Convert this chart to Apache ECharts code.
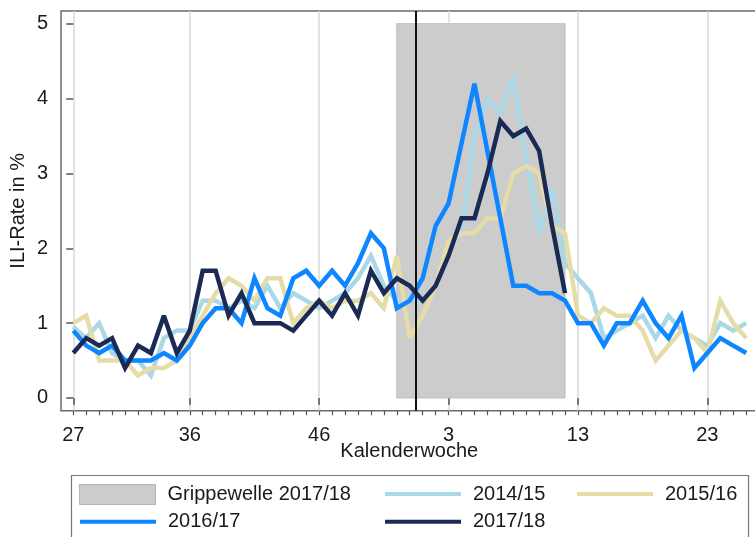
<!DOCTYPE html>
<html>
<head>
<meta charset="utf-8">
<script src="https://cdn.jsdelivr.net/npm/echarts@6/dist/echarts.min.js"></script>
<style>
  html, body { margin: 0; padding: 0; background: #ffffff; }
  #chart { width: 755px; height: 537px; }
</style>
</head>
<body>
<div id="chart"></div>
<script>
// Season runs from calendar week 27 to week 26 of the next year (including week 53)
const weekLabels = [
  '27','28','29','30','31','32','33','34','35','36','37','38','39','40','41','42','43','44',
  '45','46','47','48','49','50','51','52','53',
  '1','2','3','4','5','6','7','8','9','10','11','12','13','14','15','16','17','18','19',
  '20','21','22','23','24','25','26'
];

// Labelled weeks on the x axis
const tickWeeks = ['27', '36', '46', '3', '13', '23'];
const yTicks = [0, 1, 2, 3, 4, 5];

// Flu wave 2017/18 (first and last week) and the turn of the year
const grippeWave = ['52', '12'];
const yearChange = ['53', '1'];

// ILI rate in % per calendar week
const season1415 = [0.95, 0.8, 1.0, 0.6, 0.5, 0.5, 0.3, 0.8, 0.9, 0.9,
  1.3, 1.3, 1.2, 1.3, 1.2, 1.5, 1.2, 1.4, 1.3, 1.2,
  1.3, 1.4, 1.6, 1.9, 1.5, 1.3, 1.3, 1.3, 1.5, 2.0,
  2.2, 3.5, 4.0, 3.8, 4.3, 3.2, 2.2, 2.8, 1.8, 1.6,
  1.4, 0.8, 0.9, 1.0, 1.1, 0.8, 1.1, 0.9, 0.8, 0.7,
  1.0, 0.9, 1.0];
const season1516 = [1.0, 1.1, 0.5, 0.5, 0.5, 0.3, 0.4, 0.4, 0.5, 0.8,
  1.1, 1.4, 1.6, 1.5, 1.3, 1.6, 1.6, 1.0, 1.2, 1.3,
  1.2, 1.3, 1.3, 1.4, 1.2, 1.9, 0.8, 1.1, 1.5, 2.1,
  2.2, 2.2, 2.4, 2.4, 3.0, 3.1, 3.0, 2.3, 2.2, 1.1,
  1.0, 1.2, 1.1, 1.1, 0.9, 0.5, 0.7, 0.9, 0.8, 0.6,
  1.3, 1.0, 0.8];
const season1617 = [0.9, 0.7, 0.6, 0.7, 0.5, 0.5, 0.5, 0.6, 0.5, 0.7,
  1.0, 1.2, 1.2, 1.0, 1.6, 1.2, 1.1, 1.6, 1.7, 1.5,
  1.7, 1.5, 1.8, 2.2, 2.0, 1.2, 1.3, 1.6, 2.3, 2.6,
  3.4, 4.2, 3.3, 2.4, 1.5, 1.5, 1.4, 1.4, 1.3, 1.0,
  1.0, 0.7, 1.0, 1.0, 1.3, 1.0, 0.8, 1.1, 0.4, 0.6,
  0.8, 0.7, 0.6];
const season1718 = [0.6, 0.8, 0.7, 0.8, 0.4, 0.7, 0.6, 1.1, 0.6, 0.9,
  1.7, 1.7, 1.1, 1.4, 1.0, 1.0, 1.0, 0.9, 1.1, 1.3,
  1.1, 1.4, 1.1, 1.7, 1.4, 1.6, 1.5, 1.3, 1.5, 1.9,
  2.4, 2.4, 3.0, 3.7, 3.5, 3.6, 3.3, 2.3, 1.4];

const FONT = 'Liberation Sans, Arial, sans-serif';
const TEXT = '#1a1a1a';

const pos = w => weekLabels.indexOf(w);
const tickPos = tickWeeks.map(pos);
const allPos = weekLabels.map((w, i) => i);
const toPoints = arr => arr.map((v, i) => [i, v]);

const lineSeries = (name, values, color, width) => ({
  name: name,
  type: 'line',
  data: toPoints(values),
  symbol: 'none',
  showSymbol: false,
  silent: true,
  lineStyle: { color: color, width: width, join: 'miter', miterLimit: 3 },
  itemStyle: { color: color }
});

const legendBase = {
  padding: 0,
  itemWidth: 76,
  icon: 'rect',
  selectedMode: false,
  textStyle: { fontSize: 20, color: TEXT, fontFamily: FONT, padding: [0, 0, 0, 7] }
};

const chart = echarts.init(document.getElementById('chart'), null, { renderer: 'canvas' });

chart.setOption({
  animation: false,
  backgroundColor: '#ffffff',
  grid: {
    left: 61, right: -10.6, top: 11, bottom: 126.3,
    show: true,
    backgroundColor: 'transparent',
    borderColor: '#6b6b6b',
    borderWidth: 1.5,
    outerBoundsMode: 'none'
  },
  xAxis: [
    {
      type: 'value',
      min: -0.95, max: 53.5,
      position: 'bottom',
      axisLine: { show: false },
      axisTick: { show: true, length: 7, customValues: tickPos, lineStyle: { color: '#555', width: 1.5 } },
      axisLabel: {
        customValues: tickPos, margin: 15,
        fontSize: 20, color: TEXT, fontFamily: FONT,
        formatter: v => weekLabels[Math.round(v)]
      },
      splitLine: { show: true, lineStyle: { color: '#dadada', width: 1.5 } },
      name: 'Kalenderwoche',
      nameLocation: 'middle',
      nameGap: 31,
      nameMoveOverlap: false,
      nameTextStyle: { fontSize: 20, color: TEXT, fontFamily: FONT, padding: [0, 8, 0, 0] }
    },
    {
      type: 'value',
      min: -0.95, max: 53.5,
      position: 'bottom',
      axisLine: { show: false },
      axisTick: { show: true, length: 4.5, customValues: allPos, lineStyle: { color: '#555', width: 1.2 } },
      axisLabel: { show: false },
      splitLine: { show: false }
    }
  ],
  yAxis: {
    type: 'value',
    min: -0.17, max: 5.17,
    axisLine: { show: false },
    axisTick: { show: true, length: 7, customValues: yTicks, lineStyle: { color: '#555', width: 1.5 } },
    axisLabel: { customValues: yTicks, margin: 13, fontSize: 20, color: TEXT, fontFamily: FONT },
    splitLine: { show: false },
    name: 'ILI-Rate in %',
    nameLocation: 'middle',
    nameRotate: 90,
    nameGap: 33,
    nameMoveOverlap: false,
    nameTextStyle: { fontSize: 20, color: TEXT, fontFamily: FONT }
  },
  legend: [
    Object.assign({}, legendBase, {
      data: ['Grippewelle 2017/18'], left: 79, top: 484, itemHeight: 20,
      itemStyle: { color: '#cccccc', borderColor: '#b5b5b5', borderWidth: 1 }
    }),
    Object.assign({}, legendBase, { data: ['2014/15'], left: 385, top: 484, itemHeight: 4 }),
    Object.assign({}, legendBase, { data: ['2015/16'], left: 577, top: 484, itemHeight: 4 }),
    Object.assign({}, legendBase, { data: ['2016/17'], left: 80, top: 511.7, itemHeight: 4 }),
    Object.assign({}, legendBase, { data: ['2017/18'], left: 385, top: 511.7, itemHeight: 4 })
  ],
  graphic: [
    {
      type: 'rect',
      silent: true,
      shape: { x: 71.5, y: 475.5, width: 677, height: 80 },
      style: { fill: 'none', stroke: '#777777', lineWidth: 1.2 }
    }
  ],
  series: [
    {
      name: 'Grippewelle 2017/18',
      type: 'line',
      data: [],
      silent: true,
      itemStyle: { color: '#cccccc' },
      markArea: {
        silent: true,
        itemStyle: { color: '#cccccc', borderColor: '#bdbdbd', borderWidth: 1 },
        data: [[
          { xAxis: pos(grippeWave[0]), yAxis: yTicks[0] },
          { xAxis: pos(grippeWave[1]), yAxis: yTicks[yTicks.length - 1] }
        ]]
      },
      markLine: {
        silent: true,
        symbol: 'none',
        label: { show: false },
        lineStyle: { color: '#111111', width: 2, type: 'solid' },
        data: [{ xAxis: (pos(yearChange[0]) + pos(yearChange[1])) / 2 }]
      }
    },
    lineSeries('2014/15', season1415, '#aad8e6', 4.5),
    lineSeries('2015/16', season1516, '#e6dca8', 4.5),
    lineSeries('2016/17', season1617, '#0d86ff', 4.5),
    lineSeries('2017/18', season1718, '#1b2a55', 4.5)
  ]
});
</script>
</body>
</html>
